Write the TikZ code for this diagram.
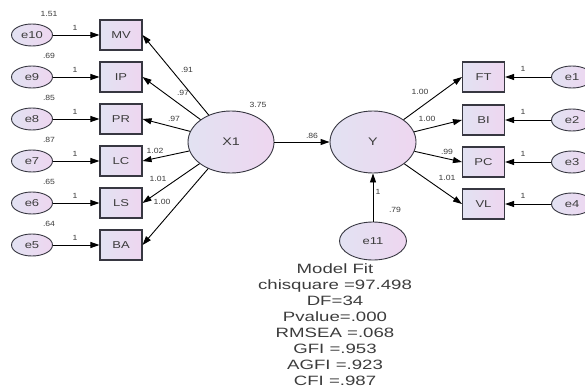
\documentclass[tikz,border=0pt]{standalone}
\usepackage{fontspec}
\setmainfont{Liberation Sans}
\usepackage{graphicx}
\usetikzlibrary{shapes.geometric,arrows.meta}
\definecolor{fillA}{RGB}{226,226,242}
\definecolor{fillB}{RGB}{238,214,240}
\definecolor{edgec}{RGB}{55,55,65}
\definecolor{txt}{RGB}{60,60,60}
\newcommand{\sxA}[1]{\scalebox{1.3}[1]{#1}}
\newcommand{\sxB}[1]{\scalebox{1.15}[1]{#1}}
\begin{document}
\begin{tikzpicture}[x=1pt,y=-1pt,
  obs/.style={draw=edgec, line width=1.1pt, rectangle, minimum width=42pt, minimum height=30pt, inner sep=0pt, left color=fillA, right color=fillB, font=\fontsize{10}{12}\selectfont, text=txt},
  err/.style={draw=edgec, line width=0.9pt, ellipse, minimum width=41pt, minimum height=22pt, inner sep=0pt, left color=fillA, right color=fillB, font=\fontsize{10}{12}\selectfont, text=txt},
  lat/.style={draw=edgec, line width=0.9pt, ellipse, minimum width=86pt, minimum height=62pt, inner sep=0pt, left color=fillA, right color=fillB, font=\fontsize{11}{13}\selectfont, text=txt},
  arr/.style={-{Triangle[length=9pt,width=6pt]}, line width=0.9pt, black},
  lbl/.style={font=\fontsize{7.5}{9}\selectfont, text=txt, inner sep=0pt}]
\useasboundingbox (0,0) rectangle (585,390);
\clip (0,0) rectangle (585,390);

% latent variables
\node[lat] (x1) at (231,142) {\sxA{X1}};
\node[lat] (yy) at (373,142) {\sxA{Y}};
\node[err, minimum width=67pt, minimum height=38pt] (e11) at (373,241) {\sxA{e11}};

% left side
\foreach \yc/\b/\e/\v in {35/MV/e10/1.51, 77/IP/e9/.69, 119/PR/e8/.85, 161/LC/e7/.87, 203/LS/e6/.65, 245/BA/e5/.64}{
  \node[obs] (b\b) at (121,\yc) {\sxA{\b}};
  \node[err] (\e) at (32,\yc) {\sxA{\e}};
  \node[lbl] (v\e) at (49,\yc-21) {\sxB{\v}};
  \node[lbl] (o\e) at (75,\yc-7) {\sxB{1}};
  \draw[arr] (\e) -- (b\b);
  \draw[arr] (x1) -- (b\b.east);
}

% right side
\foreach \yc/\b/\e in {77/FT/e1, 120/BI/e2, 162/PC/e3, 204/VL/e4}{
  \node[obs] (b\b) at (483.5,\yc) {\sxA{\b}};
  \node[err] (\e) at (572,\yc) {\sxA{\e}};
  \node[lbl] (o\e) at (523,\yc-8) {\sxB{1}};
  \draw[arr] (\e) -- (b\b);
  \draw[arr] (yy) -- (b\b.west);
}

% structural paths
\draw[arr] (x1) -- (yy);
\draw[arr] (e11) -- (yy);

% loadings
\node[lbl] (lMV) at (187,70) {\sxB{.91}};
\node[lbl] (lIP) at (183,93) {\sxB{.97}};
\node[lbl] (lPR) at (174,119) {\sxB{.97}};
\node[lbl] (lLC) at (155,151) {\sxB{1.02}};
\node[lbl] (lLS) at (158,179) {\sxB{1.01}};
\node[lbl] (lBA) at (162,202) {\sxB{1.00}};
\node[lbl] (vx1) at (258,105) {\sxB{3.75}};
\node[lbl] (lxy) at (312,136) {\sxB{.86}};
\node[lbl] (lFT) at (420,92) {\sxB{1.00}};
\node[lbl] (lBI) at (427,119) {\sxB{1.00}};
\node[lbl] (lPC) at (447,152) {\sxB{.99}};
\node[lbl] (lVL) at (447,178) {\sxB{1.01}};
\node[lbl] (oe11) at (378,192) {\sxB{1}};
\node[lbl] (ve11) at (395,210) {\sxB{.79}};

% model fit
\node[text=txt, inner sep=0pt, font=\fontsize{13.5}{16}\selectfont] (fit) at (335,326) {\scalebox{1.38}[1]{\begin{tabular}{@{}c@{}}Model Fit\\ chisquare =97.498\\ DF=34\\ Pvalue=.000\\ RMSEA =.068\\ GFI =.953\\ AGFI =.923\\ CFI =.987\end{tabular}}};
\end{tikzpicture}
\end{document}
